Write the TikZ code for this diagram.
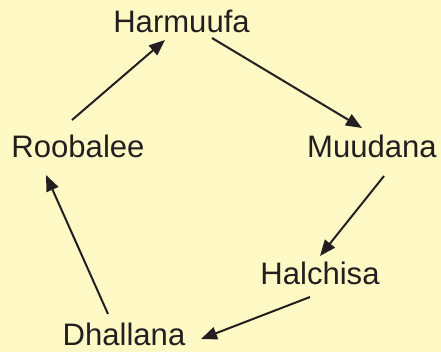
\documentclass[tikz,border=0pt]{standalone}
\usepackage{fontspec}
\setmainfont{Liberation Sans}
\usetikzlibrary{arrows.meta}
\definecolor{bgc}{HTML}{FFF9C6}
\definecolor{ink}{HTML}{231F20}
\begin{document}
\begin{tikzpicture}[x=0.75pt,y=-0.75pt,
  lbl/.style={anchor=base,inner sep=0pt,text=ink,font=\fontsize{23.3pt}{28pt}\selectfont},
  conn/.style={draw=ink,line width=1.5pt,-{Triangle[length=12pt,width=9.5pt]}}]
\fill[bgc] (0,0) rectangle (441,352);
\useasboundingbox (0,0) rectangle (441,352);
\node[lbl] (h) at (181.5,33) {Harmuufa};
\node[lbl] (m) at (372,158) {Muudana};
\node[lbl] (r) at (78,158) {Roobalee};
\node[lbl] (c) at (320,284) {Halchisa};
\node[lbl] (d) at (124,345) {Dhallana};
\draw[conn] ([shift={(30.5,5)}]h.base) -- ([shift={(-10,-30)}]m.base);
\draw[conn] ([shift={(12,18)}]m.base) -- ([shift={(0,-28)}]c.base);
\draw[conn] ([shift={(-10,13)}]c.base) -- ([shift={(77,-6)}]d.base);
\draw[conn] ([shift={(-16,-31)}]d.base) -- ([shift={(-32,17)}]r.base);
\draw[conn] ([shift={(-6,-38)}]r.base) -- ([shift={(-16.5,7)}]h.base);
\end{tikzpicture}
\end{document}
